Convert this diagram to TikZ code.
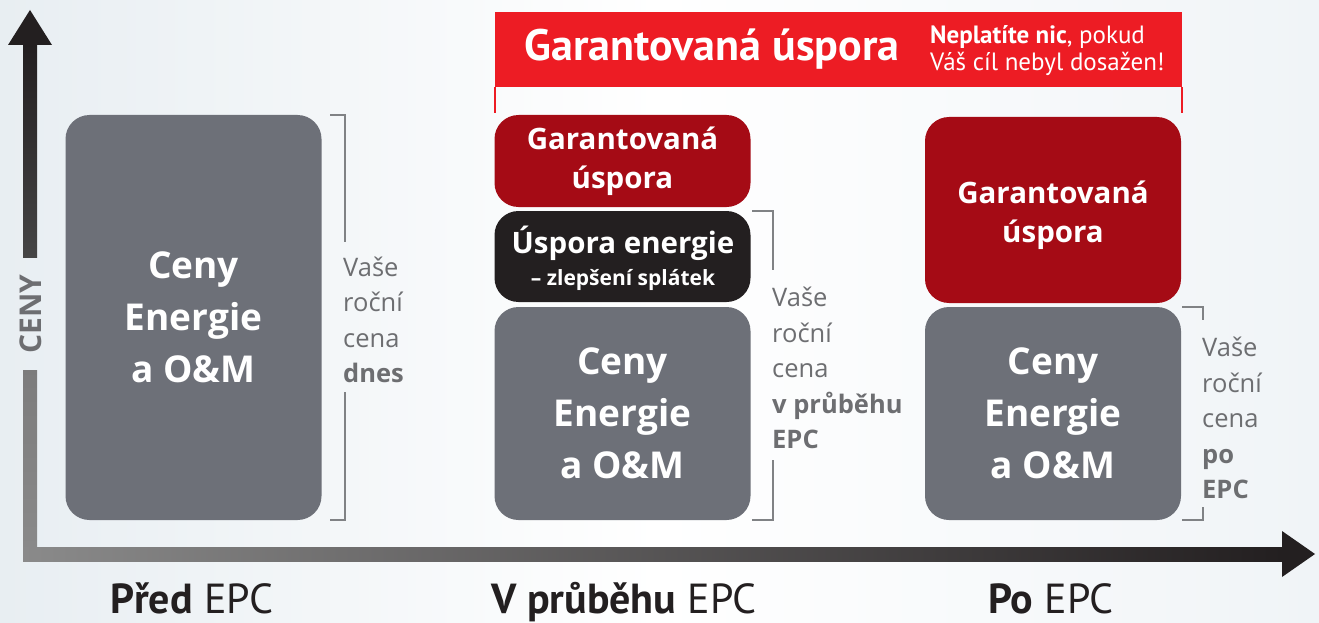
\documentclass[tikz,border=0pt]{standalone}
\usepackage{fontspec}
\setmainfont{Open Sans}
\newfontfamily\bannerfont{PT Sans}
\definecolor{boxgray}{HTML}{6D7078}
\definecolor{darkred}{HTML}{A50B15}
\definecolor{boxblack}{HTML}{231F20}
\definecolor{bannerred}{HTML}{ED1C24}
\definecolor{textgray}{HTML}{6D6E71}
\definecolor{linegray}{HTML}{808285}
\definecolor{axisgray}{HTML}{8A8A8A}
\definecolor{axisdark}{HTML}{454545}
\definecolor{bgleft}{HTML}{E8EEF2}
\definecolor{bgright}{HTML}{F0F4F7}
\begin{document}
\begin{tikzpicture}[x=1pt,y=-1pt,
  box/.style={rounded corners=24pt, minimum width=256pt, inner sep=0pt, align=center, text=white},
  graybox/.style={box, fill=boxgray, font=\fontsize{37}{52}\selectfont\bfseries},
  redbox/.style={box, fill=darkred, font=\fontsize{29.5}{39}\selectfont\bfseries},
  blackbox/.style={box, fill=boxblack},
  bracket/.style={draw=linegray, line width=1.4pt},
  brtext/.style={anchor=west, align=left, inner sep=0pt, text=textgray, font=\fontsize{25.5}{35.5}\selectfont},
  phase/.style={anchor=base, inner sep=0pt, text=boxblack, font=\bannerfont\fontsize{42}{44}\selectfont},
  arrowhead/.style={fill=boxblack}
]
\useasboundingbox (0,0) rectangle (1319,623);
\shade[left color=bgleft, right color=bgright, middle color=white] (0,0) rectangle (1319,623);

% axes
\coordinate (ytip) at (30,10);
\coordinate (xtip) at (1315,554);
\shade[top color=boxblack, bottom color=axisdark] (23,44) rectangle (37,257);
\shade[top color=axisgray!90!black, bottom color=axisgray] (23,370) rectangle (37,561);
\shade[left color=axisgray, right color=boxblack] (23,547) rectangle (1283,561);
\fill[arrowhead] (8,45) -- (ytip) -- (52,45) -- cycle;
\fill[arrowhead] (1282,531) -- (xtip) -- (1282,577) -- cycle;
\node[rotate=90, inner sep=0pt, text=textgray, font=\fontsize{30}{34}\selectfont\bfseries] (ylabel) at (31,314) {CENY};

% banner
\node[fill=bannerred, minimum width=687pt, minimum height=75pt, inner sep=0pt] (banner) at (838.5,49.5) {};
\draw[bannerred, line width=1.5pt] (banner.south west) -- ++(0,26);
\draw[bannerred, line width=1.5pt] (banner.south east) -- ++(0,26);
\node[text=white, inner sep=0pt, font=\bannerfont\fontsize{44}{46}\selectfont\bfseries] (btitle) at (712,49) {Garantovaná úspora};
\node[anchor=west, align=left, text=white, inner sep=0pt, font=\bannerfont\fontsize{25}{27}\selectfont] (bnote) at (930,51) {\textbf{Neplatíte nic}, pokud\\Váš cíl nebyl dosažen!};

% left column
\node[graybox, minimum height=405pt] (lgray) at (193.5,317.5) {Ceny\\Energie\\a O\&M};
\draw[bracket] (330,115) -- (345,115) -- (345,242);
\draw[bracket] (345,392) -- (345,520) -- (330,520);
\node[brtext] (ltext) at (343,320) {Vaše\\roční\\cena\\\textbf{dnes}};

% middle column
\node[redbox, minimum height=92pt] (mred) at (622.5,161) {Garantovaná\\úspora};
\node[blackbox, minimum height=91pt] (mblack) at (622.5,256.5) {};
\node[text=white, inner sep=0pt, align=center] (mblacktext) at (623,258) {{\fontsize{29.5}{32}\selectfont\bfseries Úspora energie}\\[8pt]{\fontsize{21}{24}\selectfont\bfseries – zlepšení splátek}};
\node[graybox, minimum height=213pt] (mgray) at (622.5,413.5) {Ceny\\Energie\\a O\&M};
\draw[bracket] (752,211) -- (773,211) -- (773,270);
\draw[bracket] (773,460) -- (773,520) -- (752,520);
\node[brtext] (mtext) at (772,368) {Vaše\\roční\\cena\\\textbf{v průběhu}\\\textbf{EPC}};

% right column
\node[redbox, minimum height=186pt] (rred) at (1053,210) {};
\node[text=white, inner sep=0pt, align=center, font=\fontsize{29.5}{39}\selectfont\bfseries] (rredtext) at (1053,215) {Garantovaná\\úspora};
\node[graybox, minimum height=213pt] (rgray) at (1053,413.5) {Ceny\\Energie\\a O\&M};
\draw[bracket] (1182,307) -- (1203,307) -- (1203,320);
\draw[bracket] (1203,507) -- (1203,520) -- (1182,520);
\node[brtext] (rtext) at (1202,418) {Vaše\\roční\\cena\\\textbf{po}\\\textbf{EPC}};

% phase labels
\node[phase] (p1) at (192,613) {\textbf{Před} EPC};
\node[phase] (p2) at (624,613) {\textbf{V průběhu} EPC};
\node[phase] (p3) at (1051,613) {\textbf{Po} EPC};
\end{tikzpicture}
\end{document}
